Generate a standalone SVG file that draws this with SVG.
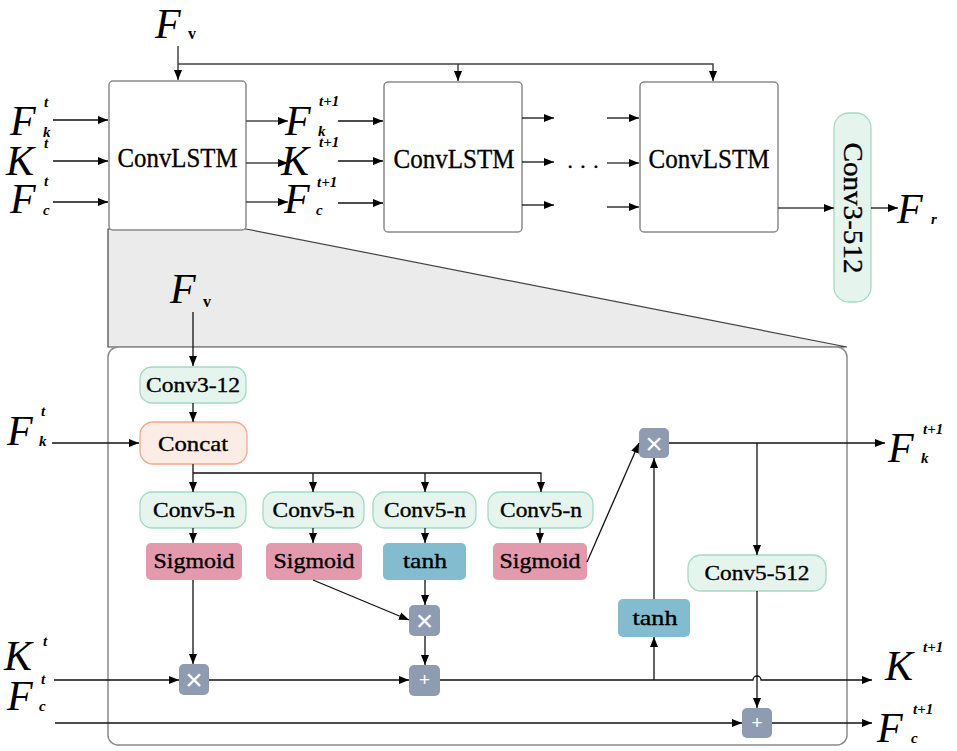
<svg xmlns="http://www.w3.org/2000/svg" width="957" height="751" viewBox="0 0 957 751">
<style>
.box{fill:#fff;stroke:#8a8a8a;stroke-width:1.5}
.g{fill:#e6f4ee;stroke:#a3dac6;stroke-width:1.3}
.o{fill:#fbece6;stroke:#f2a88c;stroke-width:1.3}
.p{fill:#e39aac}
.b{fill:#84bccf}
.op{fill:#8f9bb1}
.ln{fill:none;stroke:#111;stroke-width:1.3}
.lg{fill:none;stroke:#444;stroke-width:1.5}
.t{font-family:"Liberation Serif",serif;fill:#000;stroke:#000;stroke-width:0.35}
.big{font-family:"Liberation Serif",serif;font-style:italic;font-size:42px;fill:#000}
.sm{font-family:"Liberation Serif",serif;font-style:italic;font-weight:bold;font-size:15px;fill:#000}
.sv{font-family:"Liberation Serif",serif;font-weight:bold;font-size:16px;fill:#000}
.sym{font-family:"Liberation Sans",sans-serif;fill:#fff;text-anchor:middle}
</style>
<defs>
<marker id="a" viewBox="0 0 10 10" refX="10" refY="5" markerWidth="10" markerHeight="10" markerUnits="userSpaceOnUse" orient="auto">
<path d="M0,1 L10,5 L0,9 Z" fill="#000"/>
</marker>
</defs>

<!-- zoom trapezoid -->
<polygon points="108,229 246,229 847,347 108,347" fill="#ebebeb" stroke="#444" stroke-width="1.2"/>

<!-- top ConvLSTM boxes -->
<g id="convlstm1"><rect class="box" x="109" y="81" width="137" height="149" rx="4"/>
<text class="t" x="177.5" y="167" font-size="28" text-anchor="middle" textLength="120" lengthAdjust="spacingAndGlyphs">ConvLSTM</text></g>
<g id="convlstm2"><rect class="box" x="384" y="82" width="138" height="150" rx="4"/>
<text class="t" x="454" y="168" font-size="28" text-anchor="middle" textLength="121" lengthAdjust="spacingAndGlyphs">ConvLSTM</text></g>
<g id="convlstm3"><rect class="box" x="640" y="82" width="138" height="150" rx="4"/>
<text class="t" x="709" y="168" font-size="28" text-anchor="middle" textLength="121" lengthAdjust="spacingAndGlyphs">ConvLSTM</text></g>
<g id="conv3-512"><rect class="g" x="834" y="113" width="37" height="189" rx="15"/>
<text class="t" transform="translate(844,208) rotate(90)" font-size="27" text-anchor="middle" textLength="131" lengthAdjust="spacingAndGlyphs">Conv3-512</text></g>
<g id="dots"><text class="t" x="583" y="174" font-size="22" text-anchor="middle">· · ·</text></g>

<!-- top labels -->
<g id="lbl-top">
<text class="big" x="155" y="38">F</text><text class="sv" x="188" y="39">v</text>
<text class="big" x="10" y="135">F</text><text class="sm" x="44" y="107">t</text><text class="sm" x="43" y="137">k</text>
<text class="big" x="6" y="175">K</text><text class="sm" x="44" y="148">t</text>
<text class="big" x="10" y="213">F</text><text class="sm" x="44" y="186">t</text><text class="sm" x="43" y="215">c</text>
<text class="big" x="285" y="135">F</text><text class="sm" x="319" y="106">t+1</text><text class="sm" x="318" y="136">k</text>
<text class="big" x="281" y="175">K</text><text class="sm" x="319" y="147">t+1</text>
<text class="big" x="284" y="213">F</text><text class="sm" x="317" y="187">t+1</text><text class="sm" x="316" y="215">c</text>
<text class="big" x="897" y="223">F</text><text class="sm" x="931" y="224">r</text>
</g>

<!-- inner box -->
<g id="detail"><rect class="box" x="108" y="347" width="739" height="398" rx="10"/></g>

<g id="conv3-12"><rect class="g" x="140" y="367" width="106" height="36" rx="12"/>
<text class="t" x="193" y="392" font-size="21" text-anchor="middle" textLength="94" lengthAdjust="spacingAndGlyphs">Conv3-12</text></g>
<g id="concat"><rect class="o" x="140" y="422" width="107" height="42" rx="13"/>
<text class="t" x="193" y="451" font-size="21" text-anchor="middle" textLength="70" lengthAdjust="spacingAndGlyphs">Concat</text></g>
<g id="conv5-n-1"><rect class="g" x="140" y="492" width="106" height="36" rx="12"/>
<text class="t" x="194" y="517" font-size="21" text-anchor="middle" textLength="82" lengthAdjust="spacingAndGlyphs">Conv5-n</text></g>
<g id="conv5-n-2"><rect class="g" x="263" y="492" width="101" height="36" rx="12"/>
<text class="t" x="313.5" y="517" font-size="21" text-anchor="middle" textLength="82" lengthAdjust="spacingAndGlyphs">Conv5-n</text></g>
<g id="conv5-n-3"><rect class="g" x="373" y="492" width="103" height="36" rx="12"/>
<text class="t" x="425" y="517" font-size="21" text-anchor="middle" textLength="82" lengthAdjust="spacingAndGlyphs">Conv5-n</text></g>
<g id="conv5-n-4"><rect class="g" x="488" y="492" width="105" height="36" rx="12"/>
<text class="t" x="541" y="517" font-size="21" text-anchor="middle" textLength="82" lengthAdjust="spacingAndGlyphs">Conv5-n</text></g>

<g id="sigmoid1"><rect class="p" x="146" y="543" width="96" height="37" rx="5"/>
<text class="t" x="194" y="568" font-size="21" text-anchor="middle" textLength="81" lengthAdjust="spacingAndGlyphs">Sigmoid</text></g>
<g id="sigmoid2"><rect class="p" x="266" y="543" width="96" height="37" rx="5"/>
<text class="t" x="314" y="568" font-size="21" text-anchor="middle" textLength="81" lengthAdjust="spacingAndGlyphs">Sigmoid</text></g>
<g id="tanh1"><rect class="b" x="383" y="543" width="83" height="37" rx="5"/>
<text class="t" x="425" y="568" font-size="21" text-anchor="middle" textLength="44" lengthAdjust="spacingAndGlyphs">tanh</text></g>
<g id="sigmoid3"><rect class="p" x="493" y="543" width="94" height="37" rx="5"/>
<text class="t" x="540" y="568" font-size="21" text-anchor="middle" textLength="81" lengthAdjust="spacingAndGlyphs">Sigmoid</text></g>

<g id="mul1"><rect class="op" x="179" y="664" width="30" height="31" rx="5"/><text class="sym" x="194" y="690" font-size="30">×</text></g>
<g id="mul2"><rect class="op" x="409" y="605" width="31" height="31" rx="5"/><text class="sym" x="424.5" y="631" font-size="30">×</text></g>
<g id="add1"><rect class="op" x="409" y="665" width="31" height="31" rx="5"/><text class="sym" x="424.5" y="686" font-size="19">+</text></g>
<g id="mul3"><rect class="op" x="639" y="428" width="30" height="30" rx="5"/><text class="sym" x="654" y="454" font-size="30">×</text></g>
<g id="tanh2"><rect class="b" x="618" y="599" width="72" height="38" rx="5"/>
<text class="t" x="655" y="625" font-size="21" text-anchor="middle" textLength="45" lengthAdjust="spacingAndGlyphs">tanh</text></g>
<g id="conv5-512"><rect class="g" x="688" y="555" width="138" height="36" rx="13"/>
<text class="t" x="757" y="580" font-size="21" text-anchor="middle" textLength="105" lengthAdjust="spacingAndGlyphs">Conv5-512</text></g>
<g id="add2"><rect class="op" x="742" y="708" width="30" height="30" rx="5"/><text class="sym" x="757" y="729" font-size="19">+</text></g>

<!-- inner labels -->
<g id="lbl-inner">
<text class="big" x="170" y="303">F</text><text class="sv" x="203" y="307">v</text>
<text class="big" x="7" y="445">F</text><text class="sm" x="41" y="416">t</text><text class="sm" x="39" y="446">k</text>
<text class="big" x="4" y="670">K</text><text class="sm" x="43" y="646">t</text>
<text class="big" x="7" y="710">F</text><text class="sm" x="41" y="684">t</text><text class="sm" x="39" y="711">c</text>
<text class="big" x="888" y="462">F</text><text class="sm" x="923" y="434">t+1</text><text class="sm" x="921" y="463">k</text>
<text class="big" x="885" y="680">K</text><text class="sm" x="923" y="652">t+1</text>
<text class="big" x="877" y="742">F</text><text class="sm" x="913" y="714">t+1</text><text class="sm" x="911" y="743">c</text>
</g>

<!-- connectors -->
<g id="connectors">
<path class="lg" d="M178,46 V80" marker-end="url(#a)"/>
<path class="lg" d="M178,64 H713 V81" marker-end="url(#a)"/>
<path class="lg" d="M458,64 V81" marker-end="url(#a)"/>
<path class="ln" d="M53,120 H108" marker-end="url(#a)"/>
<path class="ln" d="M53,161 H108" marker-end="url(#a)"/>
<path class="ln" d="M53,202 H108" marker-end="url(#a)"/>
<path class="lg" d="M246,121 H288" marker-end="url(#a)"/>
<path class="lg" d="M246,163 H288" marker-end="url(#a)"/>
<path class="lg" d="M246,202 H288" marker-end="url(#a)"/>
<path class="ln" d="M338,121 H383" marker-end="url(#a)"/>
<path class="ln" d="M338,161 H383" marker-end="url(#a)"/>
<path class="ln" d="M338,203 H383" marker-end="url(#a)"/>
<path class="ln" d="M522,118 H554" marker-end="url(#a)"/>
<path class="ln" d="M522,162 H554" marker-end="url(#a)"/>
<path class="ln" d="M522,205 H554" marker-end="url(#a)"/>
<path class="ln" d="M607,118 H639" marker-end="url(#a)"/>
<path class="lg" d="M607,163 H639" marker-end="url(#a)"/>
<path class="ln" d="M607,207 H639" marker-end="url(#a)"/>
<path class="lg" d="M778,208 H834" marker-end="url(#a)"/>
<path class="ln" d="M871,208 H898" marker-end="url(#a)"/>

<path class="ln" d="M193,312 V366" marker-end="url(#a)"/>
<path class="ln" d="M193,403 V422" marker-end="url(#a)"/>
<path class="ln" d="M52,443 H139" marker-end="url(#a)"/>
<path class="ln" d="M193,464 V492" marker-end="url(#a)"/>
<path class="ln" d="M193,473 H541 V492" marker-end="url(#a)"/>
<path class="ln" d="M313,473 V492" marker-end="url(#a)"/>
<path class="ln" d="M425,473 V492" marker-end="url(#a)"/>
<path class="ln" d="M193,528 V543" marker-end="url(#a)"/>
<path class="ln" d="M313,528 V543" marker-end="url(#a)"/>
<path class="ln" d="M425,528 V543" marker-end="url(#a)"/>
<path class="ln" d="M540,528 V543" marker-end="url(#a)"/>
<path class="ln" d="M193,580 V664" marker-end="url(#a)"/>
<path class="ln" d="M313,580 L409,620" marker-end="url(#a)"/>
<path class="ln" d="M425,580 V605" marker-end="url(#a)"/>
<path class="ln" d="M425,636 V665" marker-end="url(#a)"/>
<path class="ln" d="M587,562 L639,443" marker-end="url(#a)"/>
<path class="ln" d="M54,680 H179" marker-end="url(#a)"/>
<path class="ln" d="M209,680 H409" marker-end="url(#a)"/>
<path class="ln" d="M440,680 H753 A4,4 0 0 1 761,680 H872" marker-end="url(#a)"/>
<path class="ln" d="M654,680 V637" marker-end="url(#a)"/>
<path class="ln" d="M654,599 V458" marker-end="url(#a)"/>
<path class="ln" d="M669,443 H885" marker-end="url(#a)"/>
<path class="ln" d="M757,443 V555" marker-end="url(#a)"/>
<path class="ln" d="M757,591 V708" marker-end="url(#a)"/>
<path class="ln" d="M55,723 H742" marker-end="url(#a)"/>
<path class="ln" d="M772,723 H872" marker-end="url(#a)"/>
</g>
</svg>
